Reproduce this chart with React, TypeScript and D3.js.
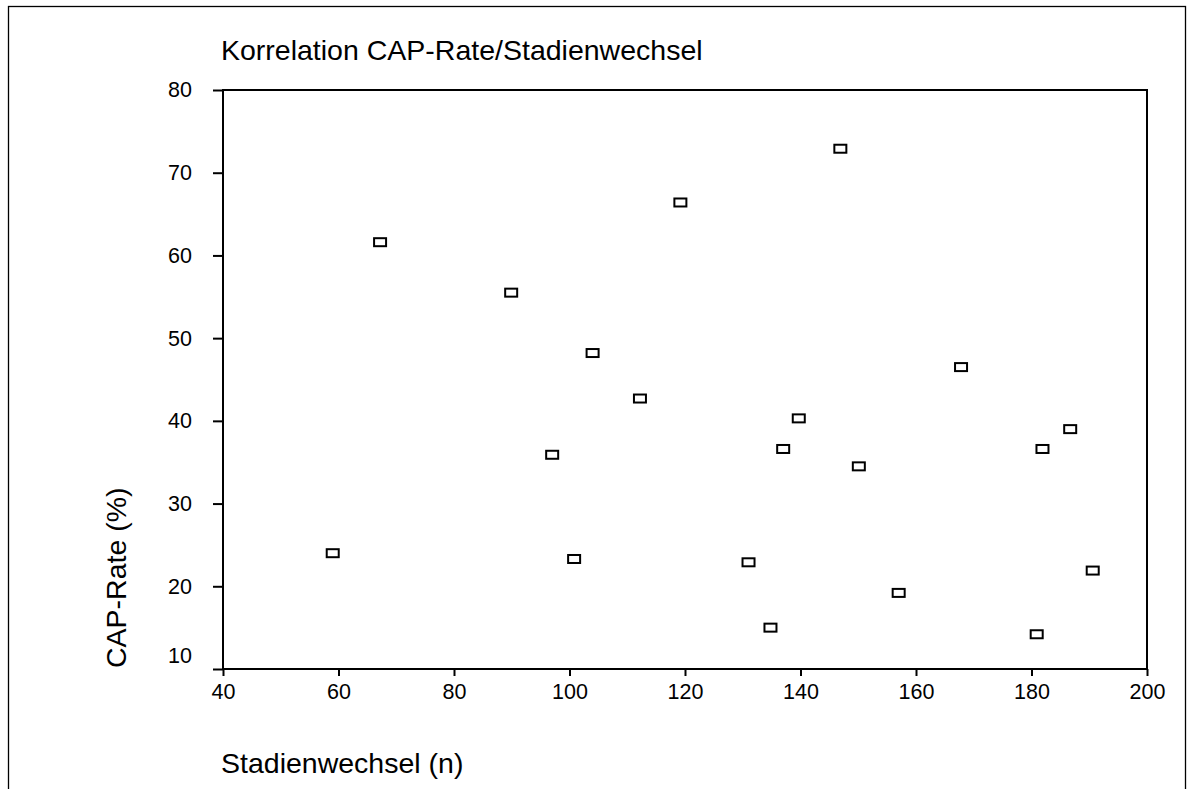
import React, { useRef, useEffect } from 'react';
import * as d3 from 'd3';

// Stadienwechsel (n) vs CAP-Rate (%)
const stadienwechsel = [59.0, 67.2, 89.9, 97.0, 100.8, 104.0, 112.2, 119.2, 131.0, 134.8, 137.0, 139.7, 146.9, 150.1, 157.0, 167.8, 180.9, 181.9, 186.7, 190.6];
const capRate = [24.0, 61.6, 55.5, 35.9, 23.3, 48.2, 42.7, 66.4, 22.9, 15.0, 36.6, 40.3, 72.9, 34.5, 19.2, 46.5, 14.2, 36.6, 39.0, 21.9];

const xTicks = [40, 60, 80, 100, 120, 140, 160, 180, 200];
const yTicks = [10, 20, 30, 40, 50, 60, 70, 80];

const title = 'Korrelation CAP-Rate/Stadienwechsel';
const xLabel = 'Stadienwechsel (n)';
const yLabel = 'CAP-Rate (%)';

const App = () => {
    const svgRef = useRef<SVGSVGElement>(null);

    useEffect(() => {
        const svg = d3.select(svgRef.current);
        svg.selectAll('*').remove();

        const width = 1200;
        const height = 789;
        const left = 223, right = 1147, top = 90, bottom = 669;
        const font = '"Liberation Sans", Arial, sans-serif';

        const x = d3.scaleLinear().domain([40, 200]).range([left, right]);
        const y = d3.scaleLinear().domain([10, 80]).range([bottom, top]);

        svg.attr('width', width).attr('height', height)
            .attr('viewBox', [0, 0, width, height])
            .style('font-family', font);

        svg.append('rect')
            .attr('width', width).attr('height', height).attr('fill', '#fff');

        // outer border
        svg.append('rect')
            .attr('x', 8.5).attr('y', 6.5)
            .attr('width', 1177).attr('height', 800)
            .attr('fill', 'none').attr('stroke', '#000').attr('stroke-width', 1.3);

        // title
        svg.append('text')
            .attr('x', 221).attr('y', 60)
            .attr('font-size', 28.5)
            .text(title);

        // plot frame
        svg.append('rect')
            .attr('x', left).attr('y', top)
            .attr('width', right - left).attr('height', bottom - top)
            .attr('fill', 'none').attr('stroke', '#000').attr('stroke-width', 2);

        // y axis
        const gy = svg.append('g')
            .attr('transform', `translate(${left},0)`)
            .call(d3.axisLeft(y).tickValues(yTicks).tickSize(10).tickSizeOuter(0).tickPadding(21).tickFormat(d3.format('d')))
            .call(g => g.select('.domain').remove());
        gy.selectAll('line').attr('stroke', '#000').attr('stroke-width', 2);
        gy.selectAll('text').attr('font-size', 21.5).attr('font-family', font).attr('fill', '#000');
        gy.selectAll<SVGGElement, number>('.tick').filter(d => d === 10)
            .select('text').attr('dy', '-0.32em');

        // x axis
        const gx = svg.append('g')
            .attr('transform', `translate(0,${bottom})`)
            .call(d3.axisBottom(x).tickValues(xTicks).tickSize(7).tickSizeOuter(0).tickPadding(8).tickFormat(d3.format('d')))
            .call(g => g.select('.domain').remove());
        gx.selectAll('line').attr('stroke', '#000').attr('stroke-width', 2);
        gx.selectAll('text').attr('font-size', 21.5).attr('font-family', font).attr('fill', '#000');

        // axis labels
        svg.append('text')
            .attr('x', 221).attr('y', 773)
            .attr('font-size', 28.5)
            .text(xLabel);

        svg.append('text')
            .attr('transform', 'translate(126,668) rotate(-90)')
            .attr('font-size', 28.5)
            .text(yLabel);

        // markers
        const pts = stadienwechsel.map((v, i) => ({ n: v, rate: capRate[i] }));
        svg.append('g')
            .selectAll('rect')
            .data(pts)
            .join('rect')
            .attr('x', d => x(d.n) - 6)
            .attr('y', d => y(d.rate) - 4)
            .attr('width', 12)
            .attr('height', 8)
            .attr('fill', '#fff')
            .attr('stroke', '#000')
            .attr('stroke-width', 2);
    }, []);

    return <svg ref={svgRef} style={{ position: 'absolute', left: 0, top: 0, display: 'block' }}></svg>;
};

export default App;
